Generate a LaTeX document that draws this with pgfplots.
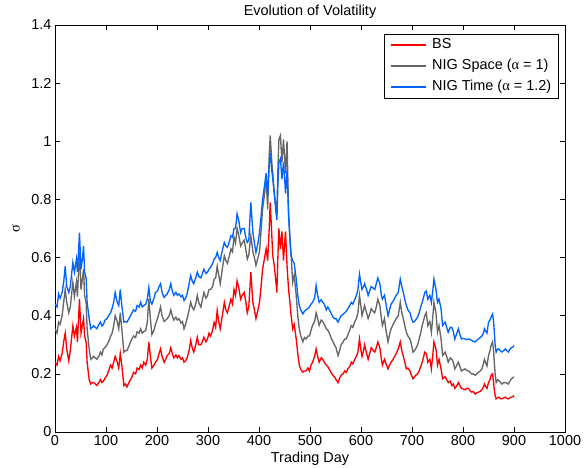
\documentclass[border=0pt]{standalone}
\usepackage{fontspec}
\setmainfont{Liberation Sans}
\newfontfamily\symfont{Liberation Serif}
\usepackage{pgfplots}
\usepackage{pgfplotstable}
\pgfplotsset{compat=1.18}
\definecolor{bsred}{RGB}{255,0,0}
\definecolor{nsgray}{RGB}{102,102,102}
\definecolor{ntblue}{RGB}{0,100,255}
\pgfplotstableread{
d bs ns nt
0 0.24 0.355 0.44
4 0.23 0.34 0.43
7 0.26 0.378 0.475
10 0.245 0.37 0.46
14 0.27 0.40 0.48
17 0.31 0.446 0.515
20 0.34 0.49 0.57
23 0.285 0.446 0.50
27 0.245 0.41 0.48
30 0.28 0.43 0.50
35 0.365 0.515 0.583
38 0.33 0.466 0.55
42 0.36 0.515 0.595
44 0.31 0.466 0.55
48 0.457 0.624 0.686
51 0.34 0.49 0.56
54 0.37 0.53 0.60
56 0.39 0.56 0.64
58 0.33 0.47 0.55
61 0.31 0.446 0.53
63 0.24 0.355 0.446
67 0.18 0.286 0.39
70 0.165 0.25 0.355
73 0.17 0.255 0.36
76 0.17 0.26 0.365
79 0.165 0.255 0.36
82 0.16 0.25 0.355
86 0.17 0.26 0.37
89 0.18 0.275 0.378
92 0.17 0.265 0.365
95 0.175 0.286 0.37
98 0.185 0.29 0.385
102 0.195 0.30 0.39
105 0.21 0.31 0.40
109 0.23 0.33 0.41
112 0.22 0.34 0.425
115 0.24 0.365 0.446
118 0.26 0.40 0.48
122 0.24 0.38 0.446
125 0.22 0.355 0.435
128 0.27 0.41 0.49
131 0.23 0.355 0.435
135 0.16 0.275 0.378
138 0.165 0.28 0.38
141 0.155 0.28 0.378
145 0.17 0.295 0.39
148 0.18 0.31 0.40
151 0.19 0.32 0.41
154 0.205 0.33 0.42
158 0.20 0.325 0.415
161 0.22 0.345 0.435
165 0.215 0.34 0.43
168 0.23 0.355 0.446
171 0.22 0.34 0.43
174 0.24 0.345 0.435
178 0.23 0.35 0.44
181 0.25 0.378 0.457
184 0.31 0.457 0.497
187 0.26 0.39 0.45
190 0.22 0.335 0.44
194 0.23 0.35 0.46
197 0.24 0.37 0.48
201 0.25 0.39 0.485
204 0.27 0.41 0.50
207 0.286 0.43 0.51
210 0.26 0.40 0.48
214 0.24 0.38 0.463
217 0.25 0.385 0.47
220 0.263 0.39 0.475
224 0.27 0.40 0.49
227 0.29 0.42 0.51
230 0.27 0.40 0.485
233 0.255 0.385 0.47
237 0.265 0.395 0.48
240 0.255 0.385 0.47
243 0.263 0.39 0.475
247 0.25 0.375 0.465
250 0.255 0.38 0.47
253 0.24 0.355 0.452
256 0.245 0.37 0.46
259 0.255 0.39 0.475
263 0.28 0.42 0.51
266 0.315 0.446 0.538
269 0.29 0.43 0.52
272 0.275 0.42 0.51
276 0.30 0.44 0.53
279 0.326 0.47 0.55
282 0.30 0.445 0.535
286 0.30 0.43 0.53
289 0.31 0.455 0.545
292 0.326 0.48 0.56
296 0.31 0.46 0.545
299 0.32 0.47 0.55
302 0.34 0.49 0.56
305 0.33 0.49 0.566
309 0.35 0.50 0.58
312 0.377 0.526 0.595
315 0.36 0.53 0.60
318 0.418 0.57 0.618
321 0.38 0.54 0.60
324 0.355 0.51 0.59
328 0.40 0.56 0.625
332 0.446 0.606 0.652
335 0.42 0.59 0.64
338 0.41 0.58 0.635
341 0.43 0.60 0.65
345 0.457 0.63 0.675
348 0.44 0.62 0.67
351 0.49 0.67 0.70
354 0.47 0.65 0.70
357 0.52 0.70 0.75
360 0.50 0.68 0.73
364 0.457 0.64 0.686
367 0.47 0.65 0.70
371 0.48 0.66 0.70
374 0.45 0.63 0.67
377 0.41 0.595 0.652
380 0.43 0.61 0.66
384 0.55 0.675 0.79
388 0.446 0.62 0.686
391 0.42 0.60 0.65
394 0.39 0.573 0.618
398 0.42 0.60 0.65
401 0.446 0.62 0.686
404 0.50 0.69 0.74
407 0.56 0.766 0.80
411 0.60 0.82 0.85
414 0.63 0.88 0.89
417 0.59 0.766 0.81
420 0.70 0.95 0.92
422 0.79 1.02 0.96
425 0.68 0.93 0.90
427 0.607 0.89 0.87
430 0.57 0.82 0.82
433 0.52 0.78 0.76
435 0.48 0.745 0.73
437 0.60 0.90 0.85
439 0.70 1.006 0.927
442 0.63 1.02 0.94
445 0.69 0.927 0.87
448 0.59 1.006 0.927
450 0.64 0.95 0.88
452 0.69 0.89 0.82
455 0.57 1.00 0.90
458 0.49 0.755 0.745
461 0.44 0.66 0.65
463 0.40 0.607 0.607
466 0.355 0.515 0.59
469 0.37 0.54 0.58
473 0.32 0.47 0.526
476 0.27 0.40 0.47
479 0.23 0.355 0.435
482 0.215 0.33 0.42
486 0.206 0.31 0.406
489 0.21 0.325 0.415
492 0.21 0.32 0.42
496 0.22 0.33 0.425
499 0.21 0.33 0.43
502 0.23 0.35 0.44
505 0.24 0.367 0.446
509 0.26 0.38 0.46
512 0.286 0.41 0.504
515 0.26 0.39 0.47
518 0.24 0.367 0.446
522 0.255 0.385 0.455
525 0.25 0.38 0.446
528 0.24 0.37 0.44
532 0.23 0.355 0.42
535 0.225 0.35 0.43
538 0.215 0.34 0.42
541 0.205 0.325 0.41
545 0.195 0.31 0.395
548 0.19 0.30 0.39
551 0.18 0.29 0.39
555 0.17 0.263 0.378
558 0.185 0.28 0.39
561 0.195 0.30 0.40
565 0.20 0.31 0.405
568 0.21 0.32 0.41
571 0.205 0.32 0.415
574 0.217 0.333 0.424
578 0.225 0.35 0.435
581 0.24 0.366 0.446
584 0.235 0.36 0.44
588 0.25 0.38 0.457
591 0.26 0.39 0.47
594 0.275 0.41 0.49
597 0.32 0.47 0.543
600 0.28 0.43 0.51
602 0.26 0.40 0.49
605 0.28 0.42 0.50
607 0.30 0.435 0.51
611 0.27 0.41 0.49
614 0.25 0.39 0.47
617 0.27 0.405 0.485
620 0.29 0.424 0.50
624 0.28 0.415 0.495
627 0.275 0.41 0.49
630 0.29 0.43 0.51
633 0.31 0.457 0.53
637 0.29 0.435 0.51
640 0.25 0.39 0.47
642 0.23 0.366 0.457
646 0.25 0.39 0.47
649 0.235 0.35 0.44
653 0.217 0.31 0.40
656 0.23 0.335 0.42
659 0.24 0.355 0.44
663 0.25 0.37 0.45
666 0.26 0.38 0.46
669 0.27 0.39 0.47
673 0.286 0.40 0.48
677 0.31 0.446 0.526
680 0.28 0.41 0.50
683 0.26 0.39 0.48
686 0.24 0.365 0.455
689 0.217 0.343 0.435
692 0.22 0.33 0.42
696 0.21 0.32 0.41
699 0.195 0.30 0.39
702 0.183 0.275 0.378
705 0.19 0.28 0.38
707 0.195 0.286 0.385
711 0.20 0.30 0.395
714 0.21 0.32 0.41
717 0.225 0.34 0.43
720 0.24 0.366 0.446
723 0.26 0.385 0.465
725 0.275 0.40 0.48
728 0.27 0.41 0.485
731 0.24 0.366 0.457
735 0.25 0.38 0.47
738 0.217 0.343 0.446
741 0.27 0.40 0.49
743 0.31 0.446 0.526
747 0.286 0.41 0.49
750 0.23 0.343 0.446
753 0.25 0.366 0.457
757 0.217 0.32 0.424
760 0.183 0.263 0.366
765 0.19 0.275 0.378
768 0.18 0.26 0.36
771 0.17 0.24 0.343
775 0.175 0.255 0.36
778 0.16 0.25 0.36
781 0.165 0.24 0.345
784 0.15 0.217 0.32
788 0.16 0.23 0.34
791 0.17 0.24 0.355
794 0.16 0.225 0.335
797 0.15 0.21 0.32
801 0.148 0.215 0.322
804 0.145 0.217 0.32
807 0.15 0.212 0.318
811 0.15 0.21 0.32
814 0.142 0.205 0.318
817 0.137 0.20 0.315
820 0.14 0.20 0.312
824 0.13 0.195 0.31
827 0.135 0.20 0.315
830 0.137 0.205 0.32
834 0.14 0.21 0.325
837 0.145 0.217 0.33
840 0.155 0.235 0.34
842 0.165 0.25 0.355
845 0.155 0.235 0.345
847 0.15 0.227 0.34
850 0.17 0.263 0.378
853 0.18 0.28 0.385
855 0.195 0.297 0.395
858 0.20 0.31 0.406
860 0.17 0.28 0.38
861 0.15 0.25 0.355
863 0.125 0.20 0.30
865 0.114 0.17 0.275
868 0.118 0.18 0.285
870 0.12 0.177 0.286
873 0.115 0.172 0.28
876 0.114 0.165 0.275
880 0.117 0.17 0.28
883 0.12 0.17 0.286
886 0.115 0.168 0.28
889 0.114 0.165 0.275
892 0.118 0.175 0.285
895 0.12 0.183 0.29
898 0.122 0.187 0.293
900 0.125 0.19 0.297
}\voltable
\begin{document}
\begin{tikzpicture}
\path[use as bounding box] (-55bp,-36bp) rectangle (532bp,432bp);
\begin{axis}[
  at={(0,0)}, anchor=south west,
  scale only axis, width=510bp, height=407bp,
  xmin=0, xmax=1000, ymin=0, ymax=1.4,
  xtick={0,100,200,300,400,500,600,700,800,900,1000},
  ytick={0,0.2,0.4,0.6,0.8,1,1.2,1.4},
  tick align=inside, major tick length=5.5bp,
  axis line style={line width=0.8bp},
  every tick/.style={black, line width=0.6bp},
  /pgf/number format/1000 sep={},
  /pgf/number format/assume math mode=true,
  ticklabel style={font=\fontsize{14.5}{16}\selectfont},
  title={Evolution of Volatility},
  title style={font=\fontsize{14.5}{16}\selectfont, at={(axis description cs:0.5,1)}, anchor=base, yshift=4bp},
  xlabel={Trading Day},
  xlabel style={font=\fontsize{14.5}{16}\selectfont, at={(axis description cs:0.5,0)}, anchor=base, yshift=-30bp},
  ylabel={{\symfont σ}},
  ylabel style={font=\fontsize{14.5}{16}\selectfont, at={(axis description cs:-0.0765,0.5)}, anchor=center},
  legend cell align=left,
  legend image code/.code={\draw[#1] (0bp,0bp) -- (35bp,0bp);},
  legend style={at={(axis description cs:0.988,0.978)}, anchor=north east,
    font=\fontsize{14.5}{16}\selectfont,
    inner xsep=6bp, inner ysep=3bp, row sep=5bp,
    /tikz/every odd column/.append style={column sep=4bp},
    nodes={inner sep=1.5bp, text height=10bp, text depth=3bp}},
]
\addplot[bsred, line width=1.35pt] table[x=d, y=bs] {\voltable};
\addlegendentry{BS}
\addplot[nsgray, line width=1.35pt] table[x=d, y=ns] {\voltable};
\addlegendentry{NIG Space ({\symfont α} = 1)}
\addplot[ntblue, line width=1.35pt] table[x=d, y=nt] {\voltable};
\addlegendentry{NIG Time ({\symfont α} = 1.2)}
\end{axis}
\end{tikzpicture}
\end{document}
